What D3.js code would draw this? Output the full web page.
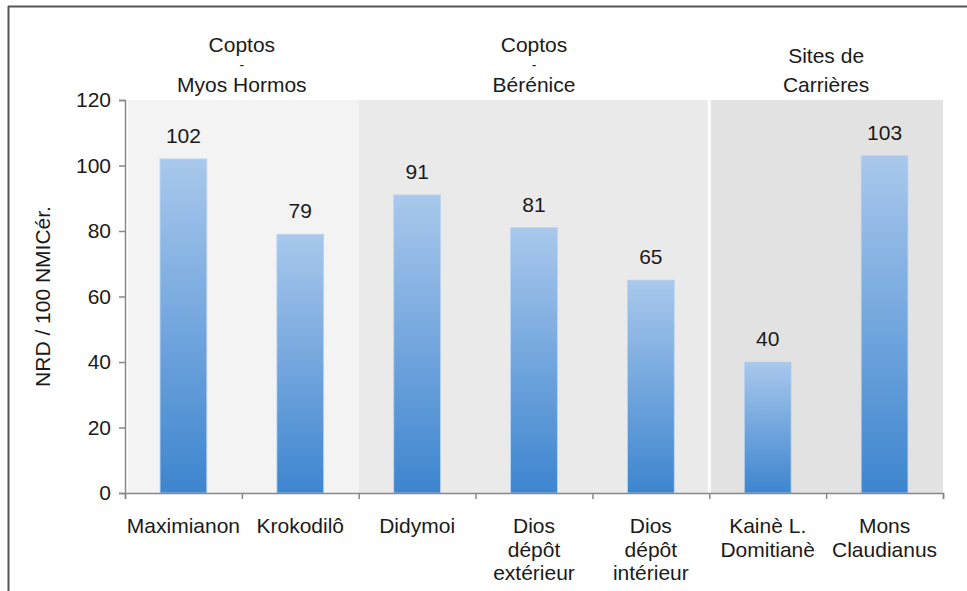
<!DOCTYPE html>
<html lang="fr">
<head>
    <meta charset="UTF-8">
    <title>NRD / 100 NMICér.</title>
    <script src="https://d3js.org/d3.v7.min.js"></script>
    <style>
        body { margin: 0; background: #fff; }
        svg text { font-family: "Liberation Sans", Arial, sans-serif; fill: #1a1a1a; }
    </style>
</head>
<body>
    <div id="chart"></div>

    <script>
        // data
        const categories = [
            ["Maximianon"],
            ["Krokodilô"],
            ["Didymoi"],
            ["Dios", "dépôt", "extérieur"],
            ["Dios", "dépôt", "intérieur"],
            ["Kainè L.", "Domitianè"],
            ["Mons", "Claudianus"]
        ];
        const values = [102, 79, 91, 81, 65, 40, 103];
        const groupNames = [
            ["Coptos", "-", "Myos Hormos"],
            ["Coptos", "-", "Bérénice"],
            ["Sites de", "Carrières"]
        ];
        const groupSizes = [2, 3, 2];
        const groupColors = ["#f3f3f3", "#eaeaea", "#e2e2e2"];
        const yTicks = [0, 20, 40, 60, 80, 100, 120];

        const width = 967, height = 591;
        const margin = { top: 100, right: 24, bottom: 98, left: 125 };
        const fs = '21px';

        const svg = d3.select('#chart')
            .append('svg')
            .attr('width', width)
            .attr('height', height);

        // frame (top and left edges only are visible)
        svg.append('line').attr('x1', 8).attr('x2', width).attr('y1', 6.5).attr('y2', 6.5)
            .attr('stroke', '#555').attr('stroke-width', 2);
        svg.append('line').attr('x1', 8.5).attr('x2', 8.5).attr('y1', 6).attr('y2', height)
            .attr('stroke', '#555').attr('stroke-width', 2);

        const ids = categories.map((c, i) => 'c' + i);

        const x = d3.scaleBand()
            .domain(ids)
            .range([margin.left, width - margin.right])
            .paddingInner(0.6)
            .paddingOuter(0.3);

        const y = d3.scaleLinear()
            .domain([0, 120])
            .range([height - margin.bottom, margin.top]);

        const step = x.step();
        const edge = i => margin.left + i * step;

        // group backgrounds
        let start = 0;
        const groups = groupSizes.map((n, g) => {
            const o = { g, from: start, to: start + n };
            start += n;
            return o;
        });

        svg.selectAll('.bg')
            .data(groups)
            .enter()
            .append('rect')
            .attr('class', 'bg')
            .attr('x', d => edge(d.from) + (d.from === 0 ? 3 : 0))
            .attr('y', y(120))
            .attr('width', d => edge(d.to) - edge(d.from) - (d.from === 0 ? 3 : 0))
            .attr('height', y(0) - y(120))
            .attr('fill', d => groupColors[d.g]);

        // white separator before the last group
        svg.append('line')
            .attr('x1', edge(groups[2].from)).attr('x2', edge(groups[2].from))
            .attr('y1', y(120)).attr('y2', y(0))
            .attr('stroke', '#fff').attr('stroke-width', 3);

        // group titles
        groups.forEach(d => {
            const cx = (edge(d.from) + edge(d.to)) / 2;
            const lines = groupNames[d.g];
            const put = (s, yy, size) => svg.append('text')
                .attr('x', cx).attr('y', yy)
                .attr('text-anchor', 'middle')
                .style('font-size', size)
                .text(s);
            if (lines.length === 3) {
                put(lines[0], 52, fs);
                put(lines[1], 70, '14px');
                put(lines[2], 92, fs);
            } else {
                put(lines[0], 63, fs);
                put(lines[1], 92, fs);
            }
        });

        // bar gradient
        const grad = svg.append('defs').append('linearGradient')
            .attr('id', 'barGrad')
            .attr('x1', 0).attr('x2', 0).attr('y1', 0).attr('y2', 1);
        grad.append('stop').attr('offset', '0%').attr('stop-color', '#a9c8ec');
        grad.append('stop').attr('offset', '100%').attr('stop-color', '#3d85cf');

        // bars
        svg.selectAll('.bar')
            .data(values)
            .enter()
            .append('rect')
            .attr('class', 'bar')
            .attr('x', (d, i) => x(ids[i]))
            .attr('y', d => y(d))
            .attr('width', x.bandwidth())
            .attr('height', d => y(0) - y(d))
            .attr('fill', 'url(#barGrad)')
            .attr('stroke', '#b8d3f0')
            .attr('stroke-width', 0.8);

        // value labels
        svg.selectAll('.val')
            .data(values)
            .enter()
            .append('text')
            .attr('class', 'val')
            .attr('x', (d, i) => x(ids[i]) + x.bandwidth() / 2)
            .attr('y', d => y(d) - 16)
            .attr('text-anchor', 'middle')
            .style('font-size', fs)
            .text(d => d);

        // y axis
        const yAxis = svg.append('g')
            .attr('transform', `translate(${margin.left}, 0)`)
            .call(d3.axisLeft(y).tickValues(yTicks).tickSize(6).tickPadding(8));
        yAxis.selectAll('path, line').attr('stroke', '#888').attr('stroke-width', 1.5);
        yAxis.selectAll('text').style('font-size', fs).attr('fill', '#1a1a1a')
            .style('font-family', '"Liberation Sans", Arial, sans-serif');

        // x axis: ticks at category boundaries
        const xb = d3.scaleLinear().domain([0, categories.length]).range([edge(0), edge(categories.length)]);
        const xAxis = svg.append('g')
            .attr('transform', `translate(0, ${y(0)})`)
            .call(d3.axisBottom(xb).tickValues(d3.range(categories.length + 1)).tickSize(6).tickSizeOuter(6).tickFormat(''));
        xAxis.selectAll('path, line').attr('stroke', '#888').attr('stroke-width', 1.5);

        // category labels
        categories.forEach((lines, i) => {
            const cx = x(ids[i]) + x.bandwidth() / 2;
            const t = svg.append('text')
                .attr('text-anchor', 'middle')
                .style('font-size', fs);
            lines.forEach((s, k) => {
                t.append('tspan').attr('x', cx).attr('y', 533 + k * 23.5).text(s);
            });
        });

        // y axis title
        svg.append('text')
            .attr('transform', `translate(50, ${(y(0) + y(120)) / 2}) rotate(-90)`)
            .attr('text-anchor', 'middle')
            .style('font-size', fs)
            .text('NRD / 100 NMICér.');
    </script>
</body>
</html>
